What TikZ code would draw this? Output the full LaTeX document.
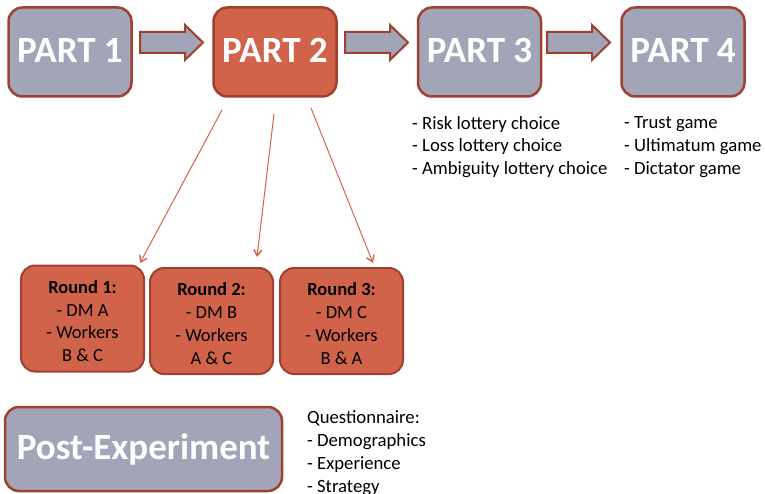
\documentclass[tikz,border=0pt]{standalone}
\usepackage{fontspec}
\setmainfont{Carlito}
\usetikzlibrary{arrows.meta}
\definecolor{grayfill}{RGB}{161,165,183}
\definecolor{redfill}{RGB}{209,99,74}
\definecolor{edgecol}{RGB}{160,64,48}
\newcommand{\roundtext}[1]{\raisebox{-4.5pt}[\height][\depth]{\begin{tabular}{@{}c@{}}#1\end{tabular}}}
\newcommand{\parttext}[1]{\raisebox{2pt}[\height][\depth]{#1}}
\tikzset{
  partbox/.style={draw=edgecol, line width=2.5pt, rounded corners=14pt, fill=grayfill,
    minimum width=123pt, minimum height=89pt, inner sep=0pt, text=white,
    font=\fontsize{37}{44}\selectfont\bfseries},
  activebox/.style={partbox, fill=redfill},
  roundbox/.style={draw=edgecol, line width=2pt, rounded corners=14pt, fill=redfill,
    minimum width=123pt, minimum height=106pt, inner sep=0pt, align=center, text=black,
    font=\fontsize{18.5}{22.8}\selectfont},
  listtext/.style={anchor=west, inner sep=0pt, align=left, text=black,
    font=\fontsize{18.7}{22.8}\selectfont},
  blockarrow/.style={draw=edgecol, line width=2pt, fill=grayfill, line join=miter},
  thinarrow/.style={draw=redfill, line width=1pt, -{Straight Barb[length=6pt,width=8pt,line width=1.4pt]}}
}
\begin{document}
\begin{tikzpicture}[x=1pt,y=-1pt]
\useasboundingbox (0,0) rectangle (765,494);

% top parts
\node[partbox]   (p1) at (70,52)    {\parttext{PART 1}};
\node[activebox] (p2) at (275,52)   {\parttext{PART 2}};
\node[partbox]   (p3) at (479.5,52) {\parttext{PART 3}};
\node[partbox]   (p4) at (683,52)   {\parttext{PART 4}};

% block arrows between parts
\foreach \s in {140,345,547}{
  \draw[blockarrow] (\s,32) -- (\s+45,32) -- (\s+45,25) -- (\s+63,42.5)
     -- (\s+45,60) -- (\s+45,53) -- (\s,53) -- cycle;
}

% lists
\node[listtext] (l3) at (412,147) {- Risk lottery choice\\- Loss lottery choice\\- Ambiguity lottery choice};
\node[listtext] (l4) at (624,147) {- Trust game\\- Ultimatum game\\- Dictator game};

% rounds
\node[roundbox] (r1) at (82.5,318.5) {\roundtext{\textbf{Round 1:}\\- DM A\\- Workers\\B \& C}};
\node[roundbox] (r2) at (211.5,321) {\roundtext{\textbf{Round 2:}\\- DM B\\- Workers\\A \& C}};
\node[roundbox] (r3) at (341.5,321) {\roundtext{\textbf{Round 3:}\\- DM C\\- Workers\\B \& A}};

% thin arrows from part 2 to rounds
\coordinate (a1s) at (222,110);
\coordinate (a1e) at (140,263);
\coordinate (a2s) at (274,114);
\coordinate (a2e) at (257,257);
\coordinate (a3s) at (311,108);
\coordinate (a3e) at (373,263);
\draw[thinarrow] (a1s) -- (a1e);
\draw[thinarrow] (a2s) -- (a2e);
\draw[thinarrow] (a3s) -- (a3e);

% post experiment
\node[partbox, minimum width=277pt, minimum height=84pt, font=\fontsize{37}{44}\selectfont\bfseries] (pe) at (143.5,449) {Post-Experiment};
\node[listtext] (lq) at (307,453) {Questionnaire:\\- Demographics\\- Experience\\- Strategy};
\end{tikzpicture}
\end{document}
